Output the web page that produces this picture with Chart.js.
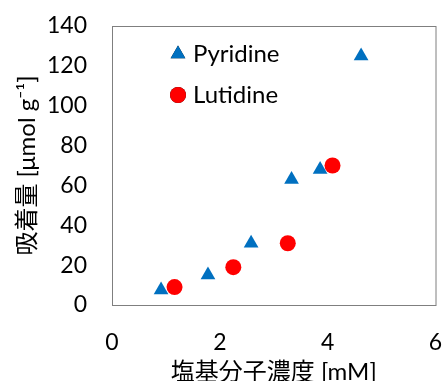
<!DOCTYPE html>
<html>
<head>
<meta charset="utf-8">
<script src="https://cdn.jsdelivr.net/npm/chart.js@4"></script>
<style>
  html, body { margin: 0; padding: 0; background: #fff; }
  #wrap { width: 444px; height: 381px; }
</style>
</head>
<body>
<div id="wrap"><canvas id="chart"></canvas></div>
<script>
// --- Data ---
const pyridineX = [0.91, 1.78, 2.58, 3.33, 3.86, 4.62];
const pyridineY = [7.5, 15, 31, 63, 68, 125];
const lutidineX = [1.16, 2.25, 3.26, 4.09];
const lutidineY = [9, 19, 31, 70];
const xTicks = [0, 2, 4, 6];
const yTicks = [0, 20, 40, 60, 80, 100, 120, 140];

const FONT = 'Lato, "Noto Sans CJK JP", sans-serif';

const toPoints = (xs, ys) => xs.map((x, i) => ({ x: x, y: ys[i] }));

// drop the label overflow padding so the plot box lands where the original is
const noPad = s => { s.paddingTop = 0; s.paddingBottom = 0; s.paddingLeft = 0; s.paddingRight = 0; };

// box around plot area
const frame = {
    id: 'frame',
    afterDatasetsDraw(chart) {
        const { ctx, chartArea: a } = chart;
        ctx.save();
        ctx.strokeStyle = '#7f7f7f';
        ctx.lineWidth = 1;
        ctx.strokeRect(a.left + 0.5, a.top + 0.5, a.right - a.left, a.bottom - a.top);
        ctx.restore();
    }
};

new Chart(document.getElementById('chart'), {
    type: 'scatter',
    data: {
        datasets: [
            {
                label: 'Pyridine',
                data: toPoints(pyridineX, pyridineY),
                pointStyle: 'triangle',
                pointRadius: 8.5,
                backgroundColor: '#0070c0',
                borderColor: '#0070c0',
                borderWidth: 0
            },
            {
                label: 'Lutidine',
                data: toPoints(lutidineX, lutidineY),
                pointStyle: 'circle',
                pointRadius: 8,
                backgroundColor: '#ff0000',
                borderColor: '#ff0000',
                borderWidth: 0
            }
        ]
    },
    options: {
        responsive: true,
        maintainAspectRatio: false,
        animation: false,
        layout: { padding: { top: 26, right: 7, left: 0, bottom: 0 } },
        plugins: {
            legend: { display: false },
            tooltip: { enabled: false }
        },
        scales: {
            x: {
                type: 'linear',
                min: 0,
                max: 6,
                afterBuildTicks: s => { s.ticks = xTicks.map(v => ({ value: v })); },
                grid: { display: false, drawTicks: false },
                border: { display: false },
                ticks: { color: '#000', font: { family: FONT, size: 23 }, padding: 24, maxRotation: 0 },
                title: {
                    display: true,
                    text: '塩基分子濃度 [mM]',
                    color: '#000',
                    font: { family: FONT, size: 24 },
                    padding: { top: 0, bottom: -6 }
                },
                afterFit: s => { s.height = 76; noPad(s); }
            },
            y: {
                type: 'linear',
                min: 0,
                max: 140,
                afterBuildTicks: s => { s.ticks = yTicks.map(v => ({ value: v })); },
                grid: { display: false, drawTicks: false },
                border: { display: false },
                ticks: { color: '#000', font: { family: FONT, size: 23 }, padding: 25 },
                title: {
                    display: true,
                    text: '吸着量 [μmol g⁻¹]',
                    color: '#000',
                    font: { family: FONT, size: 24 },
                    padding: { top: 13, bottom: 0 }
                },
                afterFit: s => { s.width = 112; noPad(s); }
            }
        }
    },
    plugins: [frame, {
        id: 'inlineLegend',
        afterDatasetsDraw(chart) {
            const { ctx } = chart;
            ctx.save();
            chart.data.datasets.forEach((ds, i) => {
                const cx = 178, cy = 54 + i * 41;
                Chart.helpers.drawPoint(ctx, {
                    pointStyle: ds.pointStyle,
                    radius: ds.pointRadius,
                    rotation: 0,
                    borderWidth: 0
                }, cx, cy);
                ctx.fillStyle = ds.backgroundColor;
                ctx.fill();
                ctx.fillStyle = '#000';
                ctx.font = '24px ' + FONT;
                ctx.textBaseline = 'middle';
                ctx.textAlign = 'left';
                ctx.fillText(ds.label, 193, cy);
            });
            ctx.restore();
        }
    }]
});
</script>
</body>
</html>
